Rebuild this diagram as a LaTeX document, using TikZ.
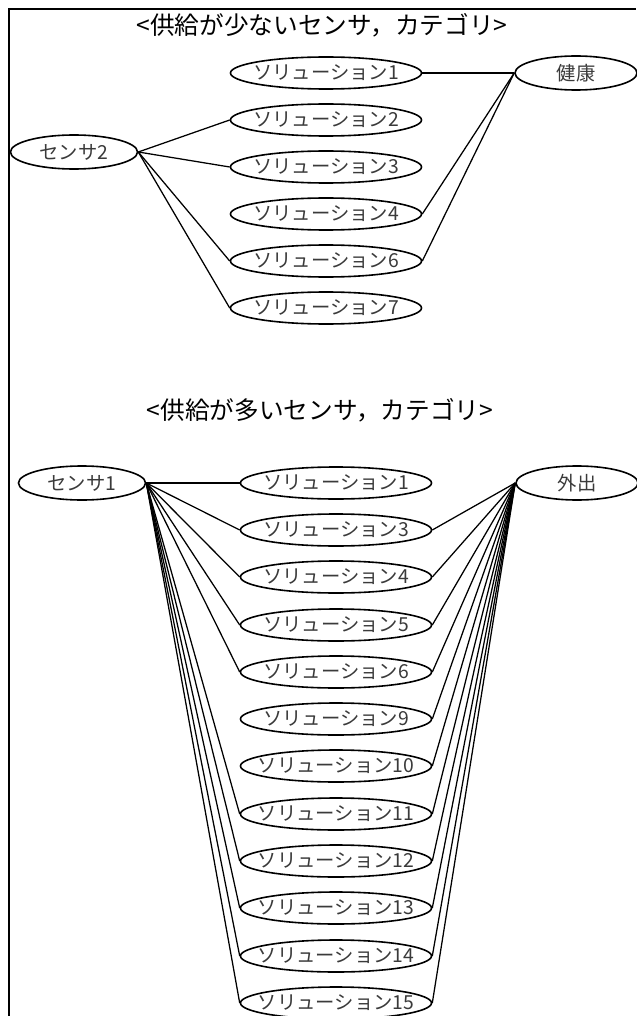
\documentclass[tikz,border=0pt]{standalone}
\usepackage{fontspec}
\setmainfont{Noto Sans CJK JP}
\usetikzlibrary{shapes.geometric}
\definecolor{lbl}{HTML}{3A3A3A}
\newcommand\zlbl[1]{\makebox[0pt]{#1}}
\tikzset{
  sol/.style={ellipse, draw=black, line width=1.2pt, minimum width=191*0.75pt, minimum height=32*0.75pt, inner sep=0pt, text=lbl, font=\fontsize{14.5pt}{15pt}\selectfont},
  ent/.style={ellipse, draw=black, line width=1.2pt, minimum width=127*0.75pt, minimum height=34*0.75pt, inner sep=0pt, text=lbl, font=\fontsize{14.5pt}{15pt}\selectfont},
  ttl/.style={inner sep=0pt, text=black, font=\fontsize{18.5pt}{20pt}\selectfont},
  link/.style={draw=black, line width=0.95pt},
  frame/.style={draw=black, line width=1.6pt}
}
\begin{document}
\begin{tikzpicture}[x=0.75pt,y=-0.75pt]
\useasboundingbox (0,0) rectangle (636,1016);
\coordinate (fbl) at (9,1016);
\coordinate (ftl) at (9,9);
\coordinate (ftr) at (636,9);
\draw[frame] (fbl) -- (ftl) -- (ftr);

% top section
\node[ttl] (title1) at (322,25) {<供給が少ないセンサ，カテゴリ>};
\node[ent] (s2) at (74,152) {\zlbl{センサ2}};
\node[ent, minimum width=122*0.75pt] (health) at (576,73) {\zlbl{健康}};
\node[sol] (a1) at (326,73) {\zlbl{ソリューション1}};
\node[sol] (a2) at (326,120) {\zlbl{ソリューション2}};
\node[sol] (a3) at (326,167) {\zlbl{ソリューション3}};
\node[sol] (a4) at (326,214) {\zlbl{ソリューション4}};
\node[sol] (a6) at (326,261) {\zlbl{ソリューション6}};
\node[sol] (a7) at (326,308) {\zlbl{ソリューション7}};

\foreach \t in {a2,a3,a6,a7} \draw[link] (s2.east) -- (\t.west);
\foreach \t in {a1,a4,a6} \draw[link] (\t.east) -- (health.west);

% bottom section
\node[ttl] (title2) at (320,410) {<供給が多いセンサ，カテゴリ>};
\node[ent] (s1) at (82,483) {\zlbl{センサ1}};
\node[ent, minimum width=122*0.75pt] (out) at (577,483) {\zlbl{外出}};
\node[sol] (b1) at (336,483) {\zlbl{ソリューション1}};
\node[sol] (b3) at (336,530) {\zlbl{ソリューション3}};
\node[sol] (b4) at (336,577) {\zlbl{ソリューション4}};
\node[sol] (b5) at (336,625) {\zlbl{ソリューション5}};
\node[sol] (b6) at (336,672) {\zlbl{ソリューション6}};
\node[sol] (b9) at (336,719) {\zlbl{ソリューション9}};
\node[sol] (b10) at (336,766) {\zlbl{ソリューション10}};
\node[sol] (b11) at (336,814) {\zlbl{ソリューション11}};
\node[sol] (b12) at (336,861) {\zlbl{ソリューション12}};
\node[sol] (b13) at (336,908) {\zlbl{ソリューション13}};
\node[sol] (b14) at (336,956) {\zlbl{ソリューション14}};
\node[sol] (b15) at (336,1003) {\zlbl{ソリューション15}};

\foreach \t in {b1,b3,b4,b5,b6,b11,b12,b13,b14,b15} \draw[link] (s1.east) -- (\t.west);
\foreach \t in {b3,b4,b5,b6,b9,b10,b11,b12,b13,b14,b15} \draw[link] (\t.east) -- (out.west);
\end{tikzpicture}
\end{document}
